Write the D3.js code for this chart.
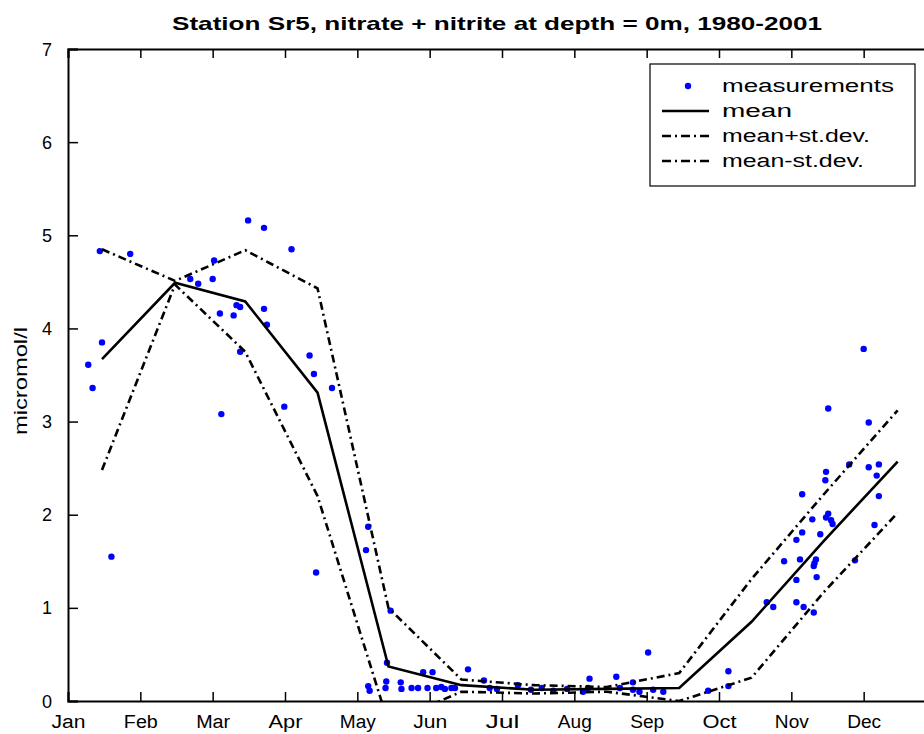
<!DOCTYPE html>
<html>
<head>
<meta charset="utf-8">
<script src="https://cdn.jsdelivr.net/npm/d3@7"></script>
<style>
  html, body { margin: 0; padding: 0; background: #fff; }
  svg text { font-family: "Liberation Sans", Arial, Helvetica, sans-serif; }
</style>
</head>
<body>
<svg id="chart" width="924" height="734"></svg>
<script>
// ---------- data ----------
const monthLabels = ["Jan","Feb","Mar","Apr","May","Jun","Jul","Aug","Sep","Oct","Nov","Dec"];
const monthTicks = [1,2,3,4,5,6,7,8,9,10,11,12];
const yTicks = [0,1,2,3,4,5,6,7];
const statX   = [1.47, 2.48, 3.45, 4.45, 5.43, 6.44, 7.45, 8.45, 9.45, 10.45, 11.45, 12.47];
const meanVals  = [3.67, 4.49, 4.29, 3.31, 0.37, 0.17, 0.12, 0.13, 0.14, 0.85, 1.72, 2.57];
const upperVals = [4.85, 4.51, 4.84, 4.43, 1.00, 0.23, 0.17, 0.15, 0.30, 1.31, 2.22, 3.12];
const lowerVals = [2.48, 4.47, 3.75, 2.20, -0.24, 0.10, 0.08, 0.10, 0.00, 0.25, 1.17, 2.02];
// measurements: [month position, value]
const measurements = [
  [1.44,4.83],[1.86,4.80],[1.47,3.85],[1.28,3.61],[1.34,3.36],[1.60,1.55],
  [2.69,4.53],[2.80,4.48],[3.00,4.53],[3.02,4.73],[3.33,4.25],[3.38,4.23],[3.10,4.16],[3.29,4.14],
  [3.49,5.16],[3.71,5.08],[3.71,4.21],[3.75,4.04],[3.38,3.75],[3.12,3.08],[4.09,4.85],[4.34,3.71],
  [4.40,3.51],[4.65,3.36],[3.99,3.16],[4.43,1.38],
  [5.15,1.87],[5.12,1.62],[5.46,0.97],
  [5.15,0.16],[5.17,0.11],[5.40,0.21],[5.39,0.14],[5.41,0.41],[5.60,0.20],[5.61,0.13],[5.75,0.14],
  [5.84,0.14],[5.91,0.31],[6.04,0.31],[5.97,0.14],[6.09,0.14],[6.16,0.15],[6.21,0.13],[6.30,0.14],
  [6.53,0.34],[6.35,0.14],[6.75,0.22],[6.83,0.14],[6.93,0.13],[7.22,0.17],[7.40,0.12],[7.55,0.14],
  [7.71,0.11],[7.90,0.13],[8.12,0.10],[8.21,0.24],[8.19,0.14],[8.58,0.26],[8.63,0.14],[8.81,0.20],
  [8.81,0.12],[9.02,0.52],[9.09,0.12],[9.23,0.10],[8.90,0.10],
  [9.85,0.11],[10.13,0.16],[10.13,0.32],
  [12.00,3.78],[11.51,3.14],[12.07,2.99],[11.80,2.54],[12.07,2.51],[12.21,2.54],[12.18,2.42],
  [11.48,2.46],[11.47,2.37],[11.15,2.22],[12.21,2.20],[11.51,2.01],[11.48,1.97],[11.55,1.94],
  [11.57,1.90],[11.29,1.95],[12.15,1.89],[11.15,1.81],[11.07,1.73],[11.40,1.79],[10.90,1.50],
  [11.12,1.52],[11.34,1.52],[11.32,1.48],[11.31,1.45],[11.35,1.33],[11.07,1.30],[11.88,1.51],
  [10.66,1.06],[10.75,1.01],[11.07,1.06],[11.17,1.01],[11.31,0.95]
];
const titleText = "Station Sr5, nitrate + nitrite at depth = 0m, 1980-2001";
const yLabel = "micromol/l";
const legendItems = ["measurements","mean","mean+st.dev.","mean-st.dev."];

// ---------- layout ----------
const svg = d3.select("#chart");
const pL = 68, pR = 936, pT = 49, pB = 701;
const x = d3.scaleLinear().domain([1, 13]).range([pL, pR]);
const y = d3.scaleLinear().domain([0, 7]).range([pB, pT]);

svg.append("defs").append("clipPath").attr("id","clip")
  .append("rect").attr("x", pL).attr("y", pT).attr("width", pR-pL).attr("height", pB-pT);

// title
svg.append("text").attr("x", 497).attr("y", 30).attr("text-anchor","middle")
  .attr("font-size", 19).attr("font-weight","bold")
  .attr("textLength", 650).attr("lengthAdjust","spacingAndGlyphs")
  .text(titleText);

// y label
svg.append("text").attr("transform", `translate(27,${(pT+pB)/2 + 6}) rotate(-90)`)
  .attr("text-anchor","middle").attr("font-size", 18)
  .attr("textLength", 108).attr("lengthAdjust","spacingAndGlyphs")
  .text(yLabel);

// axes (inward ticks, box)
const axisG = svg.append("g");
const xb = d3.axisBottom(x).tickValues(monthTicks).tickSize(-9).tickFormat((d,i)=>monthLabels[i]).tickPadding(14);
const xt = d3.axisTop(x).tickValues(monthTicks).tickSize(-9).tickFormat("");
const yl = d3.axisLeft(y).tickValues(yTicks).tickSize(-10).tickPadding(16).tickFormat(d3.format("d"));
const gB = axisG.append("g").attr("transform",`translate(0,${pB})`).call(xb);
const gT = axisG.append("g").attr("transform",`translate(0,${pT})`).call(xt);
const gL = axisG.append("g").attr("transform",`translate(${pL},0)`).call(yl);
[gB,gT,gL].forEach(g=>{
  g.select(".domain").attr("stroke","#000").attr("stroke-width",2);
  g.selectAll(".tick line").attr("stroke","#000").attr("stroke-width",1.5);
  g.selectAll(".tick text").attr("fill","#000").attr("font-size",18)
    .attr("font-family","Liberation Sans, Arial, sans-serif");
});
gB.selectAll(".tick text").attr("textLength", d => d===5 ? 36 : 34).attr("lengthAdjust","spacingAndGlyphs");
gL.selectAll(".tick text").attr("dy","0.34em");

// plot content
const plot = svg.append("g").attr("clip-path","url(#clip)");
const lineGen = vals => d3.line().x((d,i)=>x(statX[i])).y(d=>y(d))(vals);

plot.selectAll("circle.m").data(measurements).join("circle")
  .attr("class","m").attr("cx",d=>x(d[0])).attr("cy",d=>y(d[1])).attr("r",3.2).attr("fill","#0000ff");

plot.append("path").attr("d", lineGen(meanVals)).attr("fill","none").attr("stroke","#000").attr("stroke-width",2.6);
plot.append("path").attr("d", lineGen(upperVals)).attr("fill","none").attr("stroke","#000").attr("stroke-width",2.6)
  .attr("stroke-dasharray","8,4,2,4");
plot.append("path").attr("d", lineGen(lowerVals)).attr("fill","none").attr("stroke","#000").attr("stroke-width",2.6)
  .attr("stroke-dasharray","8,4,2,4");

// legend
const lg = svg.append("g");
lg.append("rect").attr("x",650).attr("y",64).attr("width",265).attr("height",122)
  .attr("fill","#fff").attr("stroke","#000").attr("stroke-width",1.2);
const rowY = [86, 111, 136, 161];
lg.append("circle").attr("cx",688).attr("cy",rowY[0]).attr("r",3.2).attr("fill","#0000ff");
lg.append("line").attr("x1",662).attr("x2",709).attr("y1",rowY[1]).attr("y2",rowY[1]).attr("stroke","#000").attr("stroke-width",2.6);
[2,3].forEach(k=>{
  lg.append("line").attr("x1",662).attr("x2",709).attr("y1",rowY[k]).attr("y2",rowY[k])
    .attr("stroke","#000").attr("stroke-width",2.6).attr("stroke-dasharray","9,4,2,4");
});
const legW = [172, 70, 148, 142];
legendItems.forEach((t,i)=>{
  lg.append("text").attr("x",722).attr("y",rowY[i]+6).attr("font-size",18)
    .attr("textLength", legW[i]).attr("lengthAdjust","spacingAndGlyphs").text(t);
});
</script>
</body>
</html>
